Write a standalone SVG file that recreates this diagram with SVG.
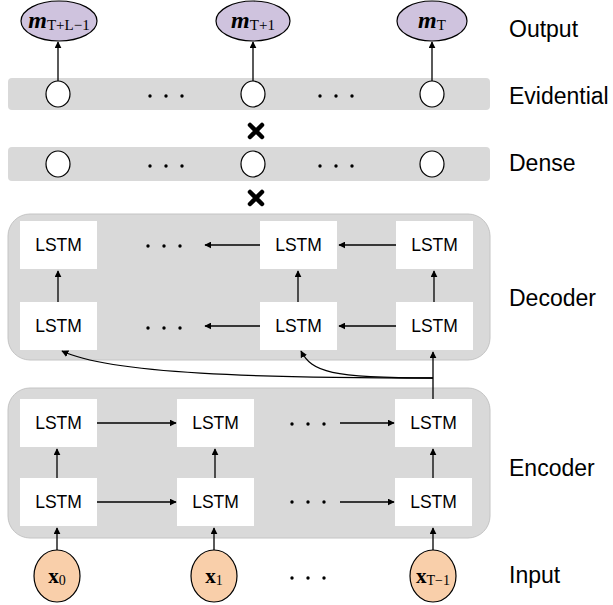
<svg xmlns="http://www.w3.org/2000/svg" width="613" height="605" viewBox="0 0 613 605">
<defs>
  <marker id="ah" viewBox="0 0 10 10" refX="9" refY="5" markerWidth="7" markerHeight="7" markerUnits="userSpaceOnUse" orient="auto">
    <path d="M0,0 L10,5 L0,10 z" fill="#000"/>
  </marker>
  <g id="dots3">
    <circle cx="0" cy="0" r="1.7"/>
    <circle cx="16" cy="0" r="1.7"/>
    <circle cx="32" cy="0" r="1.7"/>
  </g>
  <g id="cross">
    <path d="M-6,-6 L6,6 M6,-6 L-6,6" stroke="#000" stroke-width="4.5" stroke-linecap="round" fill="none"/>
  </g>
</defs>
<style>
  .band{fill:#d9d9d9}
  .panel{fill:#d9d9d9;stroke:#c4c4c4;stroke-width:1}
  .box{fill:#fff}
  .unit{fill:#fff;stroke:#000;stroke-width:1.2}
  .out{fill:#cfc3de;stroke:#000;stroke-width:1.2}
  .inp{fill:#f9cfaa;stroke:#000;stroke-width:1.2}
  .lbl{font-family:"Liberation Sans",Arial,sans-serif;font-size:17.5px;text-anchor:middle}
  .side{font-family:"Liberation Sans",Arial,sans-serif;font-size:23px;fill:#000}
  .math{font-family:"Liberation Serif","DejaVu Serif",serif;text-anchor:middle}
  .edge{stroke:#000;stroke-width:1.3;fill:none;marker-end:url(#ah)}
  .dot{fill:#000}
</style>

<!-- layer bands and panels -->
<rect class="band" x="8" y="78" width="482" height="32" rx="4"/>
<rect class="band" x="8" y="147" width="482" height="34" rx="4"/>
<rect class="panel" x="8" y="214" width="482" height="146" rx="22"/>
<rect class="panel" x="8" y="388" width="482" height="150" rx="22"/>

<!-- side labels -->
<text class="side" x="509" y="37">Output</text>
<text class="side" x="509" y="104">Evidential</text>
<text class="side" x="509" y="171">Dense</text>
<text class="side" x="509" y="306">Decoder</text>
<text class="side" x="509" y="476">Encoder</text>
<text class="side" x="509" y="583">Input</text>

<!-- output nodes -->
<g id="out-TL1">
  <ellipse class="out" cx="59" cy="21" rx="38" ry="20"/>
  <text class="math" x="59" y="28"><tspan font-size="24" font-weight="bold" font-style="italic">m</tspan><tspan font-size="15" dy="2">T+L−1</tspan></text>
</g>
<g id="out-T1">
  <ellipse class="out" cx="253" cy="21" rx="37" ry="20"/>
  <text class="math" x="253" y="28"><tspan font-size="24" font-weight="bold" font-style="italic">m</tspan><tspan font-size="15" dy="2">T+1</tspan></text>
</g>
<g id="out-T">
  <ellipse class="out" cx="432" cy="21" rx="35" ry="20"/>
  <text class="math" x="432" y="28"><tspan font-size="24" font-weight="bold" font-style="italic">m</tspan><tspan font-size="15" dy="2">T</tspan></text>
</g>

<!-- evidential units -->
<g id="evid-1"><ellipse class="unit" cx="58" cy="94" rx="12" ry="13"/></g>
<g id="evid-2"><ellipse class="unit" cx="253" cy="94" rx="12" ry="13"/></g>
<g id="evid-3"><ellipse class="unit" cx="432" cy="94" rx="12" ry="13"/></g>
<use href="#dots3" class="dot" x="150" y="96"/>
<use href="#dots3" class="dot" x="320" y="96"/>

<!-- dense units -->
<g id="dense-1"><ellipse class="unit" cx="58" cy="164" rx="12" ry="13"/></g>
<g id="dense-2"><ellipse class="unit" cx="253" cy="164" rx="12" ry="13"/></g>
<g id="dense-3"><ellipse class="unit" cx="432" cy="164" rx="12" ry="13"/></g>
<use href="#dots3" class="dot" x="150" y="166"/>
<use href="#dots3" class="dot" x="320" y="166"/>

<!-- multiplication marks -->
<use href="#cross" x="256" y="131"/>
<use href="#cross" x="256" y="198"/>

<!-- decoder cells -->
<g id="dec-top-1"><rect class="box" x="20" y="221" width="77" height="48"/><text class="lbl" x="58.5" y="251">LSTM</text></g>
<g id="dec-top-2"><rect class="box" x="260" y="221" width="77" height="48"/><text class="lbl" x="298.5" y="251">LSTM</text></g>
<g id="dec-top-3"><rect class="box" x="396" y="221" width="77" height="48"/><text class="lbl" x="434.5" y="251">LSTM</text></g>
<g id="dec-bot-1"><rect class="box" x="20" y="302" width="77" height="48"/><text class="lbl" x="58.5" y="332">LSTM</text></g>
<g id="dec-bot-2"><rect class="box" x="260" y="302" width="77" height="48"/><text class="lbl" x="298.5" y="332">LSTM</text></g>
<g id="dec-bot-3"><rect class="box" x="396" y="302" width="77" height="48"/><text class="lbl" x="434.5" y="332">LSTM</text></g>
<use href="#dots3" class="dot" x="148" y="246"/>
<use href="#dots3" class="dot" x="148" y="328"/>

<!-- encoder cells -->
<g id="enc-top-1"><rect class="box" x="20" y="399" width="77" height="48"/><text class="lbl" x="58.5" y="429">LSTM</text></g>
<g id="enc-top-2"><rect class="box" x="177" y="399" width="77" height="48"/><text class="lbl" x="215.5" y="429">LSTM</text></g>
<g id="enc-top-3"><rect class="box" x="395" y="399" width="77" height="48"/><text class="lbl" x="433.5" y="429">LSTM</text></g>
<g id="enc-bot-1"><rect class="box" x="20" y="478" width="77" height="48"/><text class="lbl" x="58.5" y="508">LSTM</text></g>
<g id="enc-bot-2"><rect class="box" x="177" y="478" width="77" height="48"/><text class="lbl" x="215.5" y="508">LSTM</text></g>
<g id="enc-bot-3"><rect class="box" x="395" y="478" width="77" height="48"/><text class="lbl" x="433.5" y="508">LSTM</text></g>
<use href="#dots3" class="dot" x="292" y="424"/>
<use href="#dots3" class="dot" x="292" y="502"/>

<!-- inputs -->
<g id="in-0">
  <ellipse class="inp" cx="57" cy="576" rx="23" ry="26"/>
  <text class="math" x="57" y="583"><tspan font-size="21" font-weight="bold">x</tspan><tspan font-size="14" dy="2">0</tspan></text>
</g>
<g id="in-1">
  <ellipse class="inp" cx="214" cy="576" rx="23" ry="26"/>
  <text class="math" x="214" y="583"><tspan font-size="21" font-weight="bold">x</tspan><tspan font-size="14" dy="2">1</tspan></text>
</g>
<g id="in-T1">
  <ellipse class="inp" cx="433" cy="576" rx="23" ry="26"/>
  <text class="math" x="433" y="583"><tspan font-size="21" font-weight="bold">x</tspan><tspan font-size="14" dy="2">T−1</tspan></text>
</g>
<use href="#dots3" class="dot" x="292" y="578"/>

<!-- connectors -->
<g id="connectors">
  <!-- evidential to output -->
  <path class="edge" d="M58,81 V42"/>
  <path class="edge" d="M253,81 V42"/>
  <path class="edge" d="M432,81 V42"/>
  <!-- decoder recurrence (right to left) -->
  <path class="edge" d="M396,245 H339"/>
  <path class="edge" d="M260,245 H205"/>
  <path class="edge" d="M396,326 H339"/>
  <path class="edge" d="M260,326 H205"/>
  <!-- decoder stacking -->
  <path class="edge" d="M58,302 V271"/>
  <path class="edge" d="M298,302 V271"/>
  <path class="edge" d="M434,302 V271"/>
  <!-- encoder state to decoder -->
  <path class="edge" d="M433,399 V352"/>
  <path class="edge" d="M433,378 C260,378 110,374 62,351"/>
  <path class="edge" d="M433,378 C330,378 312,372 301,351"/>
  <!-- encoder recurrence (left to right) -->
  <path class="edge" d="M97,423 H176"/>
  <path class="edge" d="M340,423 H394"/>
  <path class="edge" d="M97,502 H176"/>
  <path class="edge" d="M340,502 H394"/>
  <!-- encoder stacking -->
  <path class="edge" d="M57,478 V449"/>
  <path class="edge" d="M215,478 V449"/>
  <path class="edge" d="M433,478 V449"/>
  <!-- inputs to encoder -->
  <path class="edge" d="M57,550 V528"/>
  <path class="edge" d="M214,550 V528"/>
  <path class="edge" d="M433,550 V528"/>
</g>
</svg>
